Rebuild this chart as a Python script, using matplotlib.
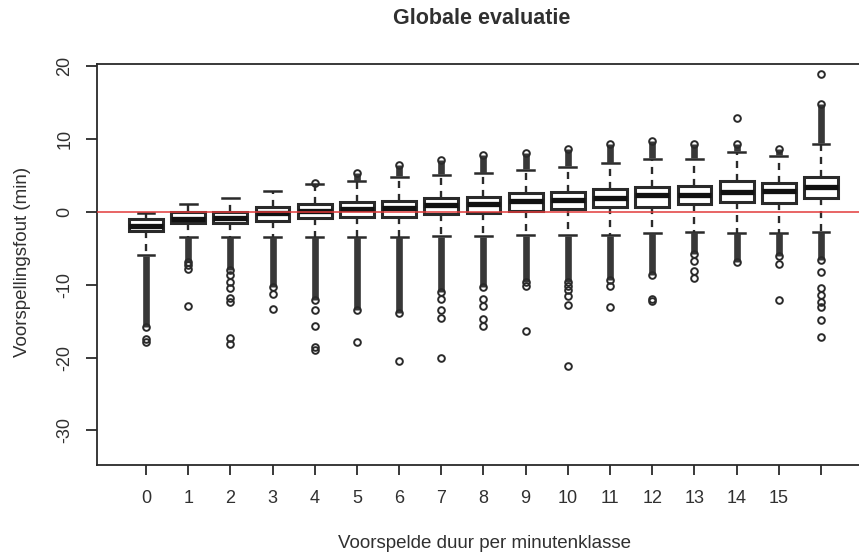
import matplotlib
matplotlib.use("Agg")
import matplotlib.pyplot as plt

plt.rcParams['font.family'] = ['Liberation Sans', 'DejaVu Sans']

# class labels (last box has no label)
labels = ["0", "1", "2", "3", "4", "5", "6", "7", "8", "9", "10", "11", "12", "13", "14", "15", ""]

# box statistics per class (minutes)
q1 = [-2.6, -1.45, -1.45, -1.24, -0.87, -0.64, -0.65, -0.27, -0.1, 0.14, 0.37, 0.64, 0.73, 1.05, 1.4, 1.2, 1.9]
med = [-1.9, -0.9, -0.8, -0.2, 0.2, 0.37, 0.5, 0.96, 1.05, 1.55, 1.65, 1.9, 2.3, 2.3, 2.8, 2.9, 3.5]
q3 = [-1.0, 0.0, 0.0, 0.73, 1.1, 1.4, 1.55, 1.9, 2.0, 2.57, 2.8, 3.15, 3.5, 3.6, 4.25, 4.0, 4.85]
whis_lo = [-5.9, -3.4, -3.4, -3.4, -3.4, -3.4, -3.4, -3.3, -3.3, -3.2, -3.2, -3.2, -2.85, -2.7, -2.85, -2.85, -2.7]
whis_hi = [-0.1, 1.05, 1.9, 2.9, 3.85, 4.2, 4.85, 5.1, 5.3, 5.8, 6.2, 6.7, 7.25, 7.25, 8.3, 7.7, 9.4]

# end of the dense runs of outliers (overlapping circles)
dense_lo = [-15.8, -6.9, -8.0, -10.3, -12.1, -13.5, -13.9, -11.0, -10.3, -9.6, -9.6, -9.4, -8.65, -5.7, -6.8, -6.0, -6.6]
dense_hi = [None, None, None, None, None, 5.3, 6.45, 7.1, 7.8, 8.05, 8.6, 9.4, 9.7, 9.4, 9.3, 8.6, 14.9]

# separate outliers
out_lo = [
    [-17.5, -17.9],
    [-7.3, -7.8, -12.9],
    [-8.6, -9.6, -10.5, -11.8, -12.3, -17.3, -18.1],
    [-11.2, -13.3],
    [-13.5, -15.6, -18.6, -19.0],
    [-17.8],
    [-20.5],
    [-12.0, -13.4, -14.5, -20.0],
    [-12.0, -12.9, -14.7, -15.7],
    [-10.2, -16.4],
    [-10.2, -10.7, -11.6, -12.8, -21.2],
    [-10.2, -13.1],
    [-11.9, -12.2],
    [-6.7, -8.1, -9.1],
    [],
    [-7.2, -12.1],
    [-8.2, -10.5, -11.4, -12.3, -13.1, -14.8, -17.2],
]
out_hi = [[], [], [], [], [4.05], [], [], [], [], [], [], [], [], [], [12.9], [], [19.0]]

ink = "#2a2a2a"
txt = "#303030"

fig = plt.figure(figsize=(8.59, 5.54), dpi=100)
ax = fig.add_axes([97 / 859, 1 - 465 / 554, 1 - 97 / 859, (465 - 64) / 554])

pos = list(range(len(labels)))
stats = []
for i in pos:
    stats.append(dict(q1=q1[i], med=med[i], q3=q3[i], whislo=whis_lo[i], whishi=whis_hi[i], fliers=[]))

ax.bxp(stats, positions=pos, widths=0.8, capwidths=0.4, showfliers=False, patch_artist=True,
       boxprops=dict(facecolor="white", edgecolor=ink, linewidth=2.2),
       medianprops=dict(color="#111111", linewidth=3.8),
       whiskerprops=dict(color=ink, linewidth=1.7, linestyle=(0, (3, 2.5))),
       capprops=dict(color=ink, linewidth=1.8))

# dense outlier runs
for i in pos:
    ax.vlines(i, dense_lo[i], whis_lo[i] - 0.1, color="#383838", linewidth=4.8, zorder=3)
    ax.plot([i], [dense_lo[i]], "o", mfc="none", mec=ink, ms=4.8, mew=1.4, zorder=4)
    if dense_hi[i] is not None:
        ax.vlines(i, whis_hi[i] + 0.1, dense_hi[i], color="#383838", linewidth=4.8, zorder=3)
        ax.plot([i], [dense_hi[i]], "o", mfc="none", mec=ink, ms=4.8, mew=1.4, zorder=4)
    pts = out_lo[i] + out_hi[i]
    ax.plot([i] * len(pts), pts, "o", mfc="none", mec=ink, ms=4.8, mew=1.4, zorder=4)

ax.axhline(0, color="#e23a3a", linewidth=1.1, zorder=5)

ax.set_xlim(-1.16, 16.9)
ax.set_ylim(-34.75, 20.33)
ax.set_xticks(pos)
ax.set_xticklabels(labels, fontsize=13, color=txt)
ax.set_yticks([-30, -20, -10, 0, 10, 20])
ax.set_yticklabels(["-30", "-20", "-10", "0", "10", "20"], rotation=90, va="center", fontsize=13, color=txt)
ax.tick_params(axis="x", direction="out", length=7, width=1.3, color=ink, pad=11)
ax.tick_params(axis="y", direction="out", length=8, width=1.3, color=ink, pad=9)
for s in ["left", "bottom", "top"]:
    ax.spines[s].set_color(ink)
    ax.spines[s].set_linewidth(1.3)
ax.spines["right"].set_visible(False)

fig.text(482 / 859, 1 - 18 / 554, "Globale evaluatie", ha="center", va="center", fontsize=15.5, fontweight="bold", color=txt)
fig.text(484 / 859, 1 - 543 / 554, "Voorspelde duur per minutenklasse", ha="center", va="center", fontsize=13.5, color=txt)
fig.text(23 / 859, 1 - 262 / 554, "Voorspellingsfout (min)", ha="center", va="center", rotation=90, fontsize=13.5, color=txt)

fig.savefig("out.png", dpi=100)
